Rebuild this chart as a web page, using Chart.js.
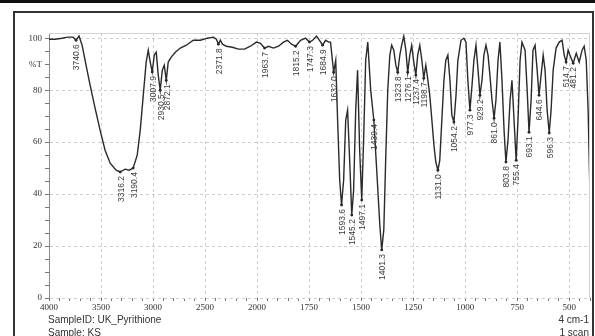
<!DOCTYPE html>
<html>
<head>
<meta charset="utf-8">
<script src="https://cdn.jsdelivr.net/npm/chart.js@4"></script>
<style>
  body { margin: 0; background: #fff; }
  #wrap { position: relative; width: 595px; height: 336px; overflow: hidden; background: #fff; }
  #ir { position: absolute; left: 0; top: 0; }
  .topline { position: absolute; left: 0; top: 0; width: 595px; height: 3px; background: #111; }
  .frame { position: absolute; left: 13px; top: 11px; width: 577px; height: 400px; border: 2px solid #333; }
  .note { position: absolute; font: 10px "Liberation Sans", sans-serif; color: #333; white-space: nowrap; }
</style>
</head>
<body>
<div id="wrap">
  <div class="topline"></div>
  <div class="frame"></div>
  <canvas id="ir" width="595" height="336"></canvas>
  <div class="note" style="left:48px;top:314px">SampleID: UK_Pyrithione</div>
  <div class="note" style="left:48px;top:327px">Sample: KS</div>
  <div class="note" style="right:6px;top:314px">4 cm-1</div>
  <div class="note" style="right:6px;top:327px">1 scan</div>
</div>
<script>
// spectrum (cm-1, %T)
const wavenumbers = [
  4000, 3942, 3875, 3817, 3769, 3740, 3711, 3682, 3644, 3605, 3557, 3509, 3461, 3412, 3355, 3316,
  3268, 3229, 3191, 3152, 3123, 3094, 3066, 3046, 3027, 3008, 2988, 2969, 2950, 2931, 2911, 2892,
  2873, 2854, 2825, 2786, 2738, 2680, 2613, 2545, 2478, 2420, 2391, 2372, 2353, 2333, 2295, 2237,
  2179, 2121, 2064, 2006, 1984, 1964, 1945, 1921, 1897, 1873, 1854, 1834, 1815, 1791, 1767, 1748,
  1733, 1714, 1700, 1685, 1671, 1656, 1647, 1632, 1622, 1613, 1603, 1594, 1584, 1574, 1565, 1555,
  1545, 1536, 1526, 1517, 1507, 1497, 1488, 1478, 1468, 1454, 1439, 1425, 1410, 1401, 1391, 1382,
  1372, 1362, 1353, 1343, 1333, 1324, 1314, 1305, 1295, 1285, 1276, 1266, 1257, 1247, 1237, 1228,
  1218, 1208, 1199, 1189, 1179, 1170, 1160, 1150, 1141, 1131, 1122, 1112, 1102, 1093, 1083, 1073,
  1064, 1054, 1044, 1035, 1020, 1006, 996, 987, 977, 967, 958, 948, 938, 929, 919, 910,
  900, 890, 881, 871, 861, 852, 842, 833, 823, 813, 804, 794, 784, 775, 765, 755,
  746, 736, 727, 712, 702, 693, 683, 674, 664, 654, 645, 635, 625, 616, 606, 596,
  587, 577, 563, 548, 534, 524, 515, 505, 495, 481, 466, 452, 438, 428, 418, 409, 400
];
const transmittance = [
  99.6, 99.6, 100, 100.4, 100.4, 99.2, 100.8, 97.3, 89.6, 81.9, 73.1, 64.6, 56.9, 51.9, 49.2, 48.5,
  49.6, 49.2, 50, 55, 64.6, 78, 90.8, 95.4, 90.8, 87, 93.5, 94.6, 85.8, 80, 87.7, 89.6,
  83.8, 90.8, 92.7, 94.6, 96.2, 97.3, 99.2, 99.2, 100, 100.4, 99.6, 97.7, 99.2, 97.7, 96.9, 96.5,
  95.8, 95.8, 96.9, 98.5, 98, 96.2, 96.9, 96.2, 96.9, 98.5, 99.2, 97.7, 96.9, 99.2, 100, 98.5,
  99.2, 100.8, 99.2, 97.3, 99.2, 98.5, 98.5, 86.9, 91.5, 68.5, 45.4, 35.8, 45.4, 68.5, 72.3, 53,
  31.9, 41.5, 72.3, 87.7, 56.9, 37.7, 60.8, 91.5, 98.5, 80, 68.5, 49.2, 28, 18.5, 26.2, 53,
  80, 93.5, 97.3, 95.4, 89.6, 86.9, 93.5, 97.3, 100.8, 95.4, 86.9, 93.5, 97.3, 90.8, 85.8, 93.5,
  97.3, 91.5, 84.6, 89.6, 83.8, 78, 68.5, 58.8, 52.3, 49.2, 53, 68.5, 83.8, 91.5, 93.5, 83.8,
  70.4, 67.7, 78, 91.5, 99.2, 100, 98.5, 83.8, 72.3, 81.9, 91.5, 97.3, 87.7, 78, 83.8, 93.5,
  97.3, 93.5, 85.8, 76.2, 69.2, 76.2, 91.5, 98.5, 83.8, 64.6, 52.3, 60.8, 76.2, 83.8, 68.5, 53,
  68.5, 91.5, 98.5, 95.4, 80, 63.8, 76.2, 95.4, 97.3, 87.7, 78, 85.8, 93.5, 87.7, 72.3, 63.5,
  72.3, 87.7, 96.2, 98.5, 99.2, 93.5, 90.8, 95.4, 93.1, 90.4, 94.2, 90.8, 95.4, 96.9, 91.5, 72.3, 39.6
];

// labelled peaks
const peakWavenumbers = [3740, 3316, 3191, 3008, 2931, 2873, 2372, 1964, 1815, 1748, 1685, 1632, 1594,
  1545, 1497, 1439, 1401, 1324, 1276, 1237, 1199, 1131, 1054, 977, 929, 861, 804, 755, 693, 645, 596, 515, 481];
const peakTransmittance = [99.2, 48.5, 50, 87, 80, 83.8, 97.7, 96.2, 96.9, 98.5, 97.3, 86.9, 35.8,
  31.9, 37.7, 68.5, 18.5, 86.9, 86.9, 85.8, 84.6, 49.2, 67.7, 72.3, 78, 69.2, 52.3, 53, 63.8, 78, 63.5, 90.8, 90.4];
const peakLabels = ['3740.6', '3316.2', '3190.4', '3007.9', '2930.5', '2872.1', '2371.8', '1963.7', '1815.2',
  '1747.3', '1684.9', '1632.0', '1593.6', '1545.2', '1497.1', '1439.4', '1401.3', '1323.8', '1276.1', '1237.4',
  '1198.7', '1131.0', '1054.2', '977.3', '929.2', '861.0', '803.8', '755.4', '693.1', '644.6', '596.3', '514.7', '481.2'];

const xTickValues = [4000, 3500, 3000, 2500, 2000, 1750, 1500, 1250, 1000, 750, 500];

// axis is expanded x2 below 2000 cm-1
function toAxis(w) {
  return w >= 2000 ? (4000 - w) / 500 : 4 + (2000 - w) / 250;
}
const isWhole = v => Math.abs(v - Math.round(v)) < 1e-6;

const peakPlugin = {
  id: 'peaks',
  afterDraw(chart) {
    const { ctx, chartArea, scales } = chart;
    ctx.save();
    ctx.strokeStyle = '#d2d2d2';
    ctx.lineWidth = 1;
    ctx.beginPath();
    ctx.moveTo(chartArea.left, chartArea.top + 0.5);
    ctx.lineTo(chartArea.right - 0.5, chartArea.top + 0.5);
    ctx.lineTo(chartArea.right - 0.5, chartArea.bottom);
    ctx.stroke();

    ctx.fillStyle = '#3a3a3a';
    ctx.font = '8.5px "Liberation Sans", sans-serif';
    ctx.textAlign = 'right';
    ctx.textBaseline = 'middle';
    peakWavenumbers.forEach((w, i) => {
      const x = scales.x.getPixelForValue(toAxis(w));
      const y = scales.y.getPixelForValue(peakTransmittance[i]);
      ctx.save();
      ctx.translate(x + 1, y + 4);
      ctx.rotate(-Math.PI / 2);
      ctx.fillText(peakLabels[i], 0, 0);
      ctx.restore();
    });
    ctx.restore();
  }
};

const tickFont = { family: '"Liberation Serif", serif', size: 9 };

new Chart(document.getElementById('ir'), {
  type: 'line',
  data: {
    datasets: [
      {
        data: wavenumbers.map((w, i) => ({ x: toAxis(w), y: transmittance[i] })),
        borderColor: '#2a2a2a', borderWidth: 1.4, pointRadius: 0, tension: 0,
      },
      {
        type: 'scatter',
        data: peakWavenumbers.map((w, i) => ({ x: toAxis(w), y: peakTransmittance[i] })),
        pointRadius: 1.4, pointBackgroundColor: '#222', pointBorderWidth: 0,
      },
    ],
  },
  options: {
    responsive: false, animation: false, devicePixelRatio: 1,
    layout: { padding: { top: 33, right: 5, left: 0, bottom: 0 } },
    plugins: { legend: { display: false }, tooltip: { enabled: false } },
    scales: {
      x: {
        type: 'linear', min: 0, max: 10.4,
        afterFit: s => { s.height = 38; },
        border: { display: false, dash: [3, 3] },
        grid: {
          color: c => (c.tick && isWhole(c.tick.value) ? '#cfcfcf' : 'transparent'),
          tickColor: '#777', tickLength: 3,
        },
        ticks: {
          stepSize: 0.2, autoSkip: false, includeBounds: false, maxRotation: 0, padding: 1,
          color: '#333', font: tickFont,
          callback: v => (isWhole(v) ? String(xTickValues[Math.round(v)] ?? '') : ''),
        },
      },
      y: {
        min: 0, max: 102,
        afterFit: s => { s.width = 49; },
        border: { display: true, color: '#8a8a8a', width: 1, dash: [3, 3] },
        grid: {
          color: c => (c.tick && c.tick.value % 20 === 0 ? '#cfcfcf' : 'transparent'),
          tickColor: '#777', tickLength: 4,
        },
        ticks: {
          stepSize: 5, autoSkip: false, includeBounds: false, padding: 3,
          color: '#333', font: tickFont,
          callback: v => (v % 20 === 0 ? String(v) : v === 90 ? '%T' : ''),
        },
      },
    },
  },
  plugins: [peakPlugin],
});
</script>
</body>
</html>
